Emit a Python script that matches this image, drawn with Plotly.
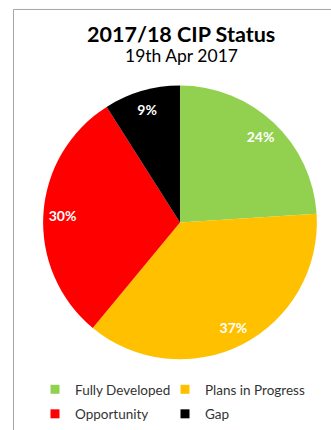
import plotly.graph_objects as go

categories = ["Fully Developed", "Plans in Progress", "Opportunity", "Gap"]
values = [24, 37, 30, 9]
colors = ["#92D050", "#FFC000", "#FF0000", "#000000"]
legend_column = ["legend", "legend2", "legend", "legend2"]
title_text = "2017/18 CIP Status"
subtitle_text = "19th Apr 2017"

W, H = 331, 430
FONT = "Lato, 'Open Sans', sans-serif"
pie_domain = dict(x=[43 / W, 317 / W], y=[(H - 361) / H, (H - 86) / H])

fig = go.Figure()
# solid pie (no text)
fig.add_trace(go.Pie(
    labels=categories,
    values=values,
    marker=dict(colors=colors, line=dict(color="white", width=0)),
    sort=False,
    direction="clockwise",
    rotation=0,
    textinfo="none",
    domain=pie_domain,
    hoverinfo="label+percent",
    showlegend=False,
))
# transparent ring, used only to place the percentage labels near the rim
fig.add_trace(go.Pie(
    labels=categories,
    values=values,
    hole=0.72,
    marker=dict(colors=["rgba(0,0,0,0)"] * len(values), line=dict(width=0)),
    sort=False,
    direction="clockwise",
    rotation=0,
    texttemplate="<b>%{percent:.0%}</b>",
    textposition="inside",
    insidetextorientation="horizontal",
    textfont=dict(color="white", size=14, family=FONT),
    domain=pie_domain,
    showlegend=False,
    hoverinfo="skip",
))
# legend entries (two columns, like the original)
for name, col, leg in zip(categories, colors, legend_column):
    fig.add_trace(go.Scatter(
        x=[None], y=[None], mode="markers", name=name,
        marker=dict(symbol="square", size=9, color=col),
        legend=leg, legendgroup=name, showlegend=True, hoverinfo="skip",
    ))

legend_common = dict(
    orientation="v",
    xanchor="left",
    y=(H - 376) / H, yanchor="top",
    font=dict(size=13.5, family=FONT, color="#333333"),
    itemwidth=30,
    tracegroupgap=4,
    bgcolor="rgba(0,0,0,0)",
)

fig.update_layout(
    width=W, height=H,
    margin=dict(l=0, r=0, t=0, b=0),
    paper_bgcolor="white",
    plot_bgcolor="white",
    font=dict(family=FONT, color="#333333"),
    showlegend=True,
    xaxis=dict(visible=False),
    yaxis=dict(visible=False),
    legend=dict(x=35 / W, **legend_common),
    legend2=dict(x=165 / W, **legend_common),
    annotations=[
        dict(text="<b>" + title_text + "</b>", x=181 / W, y=(H - 34) / H,
             xref="paper", yref="paper", showarrow=False, xanchor="center", yanchor="middle",
             font=dict(size=21.5, family=FONT, color="#000000")),
        dict(text=subtitle_text, x=181 / W, y=(H - 56) / H,
             xref="paper", yref="paper", showarrow=False, xanchor="center", yanchor="middle",
             font=dict(size=17.5, family=FONT, color="#000000")),
    ],
    shapes=[
        dict(type="rect", xref="paper", yref="paper",
             x0=13.5 / W, x1=1.2, y0=-0.2, y1=(H - 9.5) / H,
             line=dict(color="#A6A6A6", width=1), fillcolor="rgba(0,0,0,0)", layer="below"),
    ],
)

fig.write_html("out.html")
